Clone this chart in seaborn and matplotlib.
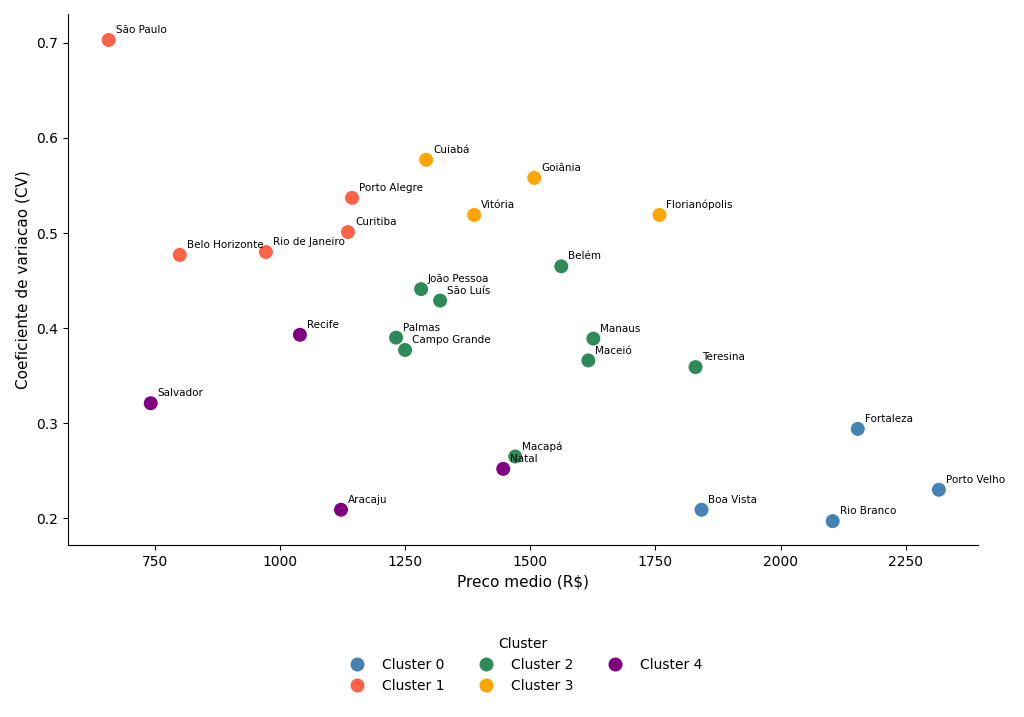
import pandas as pd
import seaborn as sns
import matplotlib.pyplot as plt

cidades = ['São Paulo', 'Belo Horizonte', 'Rio de Janeiro', 'Curitiba', 'Porto Alegre',
           'Cuiabá', 'Goiânia', 'Vitória', 'Florianópolis',
           'Belém', 'João Pessoa', 'São Luís', 'Palmas', 'Campo Grande', 'Manaus',
           'Maceió', 'Teresina', 'Macapá',
           'Recife', 'Salvador', 'Natal', 'Aracaju',
           'Fortaleza', 'Porto Velho', 'Boa Vista', 'Rio Branco']
preco = [658, 800, 972, 1136, 1144,
         1292, 1508, 1388, 1758,
         1562, 1282, 1320, 1232, 1250, 1626,
         1616, 1830, 1470,
         1040, 742, 1446, 1122,
         2154, 2316, 1842, 2104]
cv = [0.703, 0.477, 0.480, 0.501, 0.537,
      0.577, 0.558, 0.519, 0.519,
      0.465, 0.441, 0.429, 0.390, 0.377, 0.389,
      0.366, 0.359, 0.265,
      0.393, 0.321, 0.252, 0.209,
      0.294, 0.230, 0.209, 0.197]
cluster = [1, 1, 1, 1, 1,
           3, 3, 3, 3,
           2, 2, 2, 2, 2, 2,
           2, 2, 2,
           4, 4, 4, 4,
           0, 0, 0, 0]

cores = {'Cluster 0': 'steelblue', 'Cluster 1': 'tomato', 'Cluster 2': 'seagreen',
         'Cluster 3': 'orange', 'Cluster 4': 'purple'}

df = pd.DataFrame({'cidade': cidades, 'preco': preco, 'cv': cv,
                   'Cluster': [f'Cluster {c}' for c in cluster]})

fig, ax = plt.subplots(figsize=(10.24, 7.17), dpi=100)
sns.scatterplot(data=df, x='preco', y='cv', hue='Cluster', hue_order=list(cores),
                palette=cores, s=120, ax=ax)

for _, r in df.iterrows():
    ax.annotate(r['cidade'], (r['preco'], r['cv']), xytext=(5, 5),
                textcoords='offset points', fontsize=7.5)

ax.set_xlabel('Preco medio (R$)', fontsize=11)
ax.set_ylabel('Coeficiente de variacao (CV)', fontsize=11)
ax.set_xlim(576, 2394)
ax.set_ylim(0.172, 0.73)
sns.despine(ax=ax)

ax.legend(title='Cluster', loc='upper center', bbox_to_anchor=(0.5, -0.15),
          ncol=3, frameon=False, fontsize=10, title_fontsize=10, markerscale=1.0)

fig.subplots_adjust(left=0.066, right=0.955, top=0.98, bottom=0.24)
fig.savefig('out.png', dpi=100)
